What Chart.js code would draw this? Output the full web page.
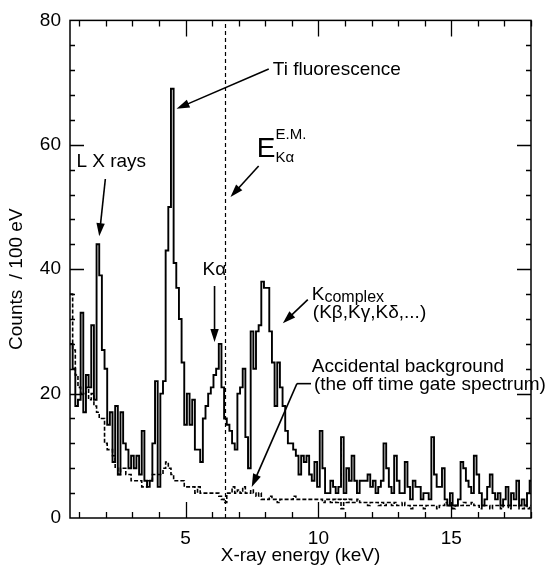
<!DOCTYPE html>
<html lang="en">
  <head>
    <meta charset="UTF-8" />
    <title>X-ray spectrum</title>
    <script src="https://cdn.jsdelivr.net/npm/chart.js@4.4.0/dist/chart.umd.min.js"></script>
    <style>
      body { margin: 0; background: #fff; }
      canvas { display: block; }
    </style>
  </head>
  <body>
    <canvas id="spectrum" width="549" height="573"></canvas>

    <script>
      // 100 eV bins, first bin 0.65-0.75 keV
      const firstEdge = 0.65;
      const binWidth = 0.1;

      // on-time gate spectrum, counts per bin (one row per keV)
      const onTimeCounts = [
        28, 24, 18, 19, 33, 17, 23, 21, 31, 19,
        44, 39, 27, 24, 15, 17, 9, 18, 7, 17,
        12, 11, 8, 10, 8, 10, 7, 14, 6, 5,
        6, 12, 22, 5, 20, 22, 43, 50, 69, 41,
        37, 32, 25, 15, 20, 15, 19, 11, 11, 9,
        16, 18, 20, 21, 23, 24, 28, 21, 16, 15,
        14, 12, 11, 20, 21, 24, 13, 8, 30, 24,
        30, 31, 38, 37, 37, 30, 25, 18, 25, 21,
        18, 14, 12, 12, 11, 10, 7, 10, 9, 10,
        7, 6, 9, 5, 14, 8, 4, 4, 6, 5,
        4, 5, 13, 4, 8, 6, 10, 6, 4, 6,
        6, 6, 7, 5, 6, 4, 5, 6, 12, 8,
        5, 4, 10, 6, 4, 4, 9, 5, 3, 6,
        5, 5, 3, 4, 4, 3, 13, 7, 5, 5,
        8, 3, 2, 4, 2, 2, 3, 9, 8, 6,
        5, 4, 10, 7, 4, 2, 3, 5, 7, 4,
        3, 4, 2, 3, 5, 2, 4, 3, 6, 2,
        3, 2, 4, 6
      ];

      // off-time gate spectrum (accidental background), same bins
      const offTimeCounts = [
        36, 27, 23, 21, 20, 20, 21, 19, 20, 18,
        17, 16, 16, 12, 11, 11, 10, 8, 7, 8,
        8, 7, 7, 6, 6, 6, 6, 5, 5, 6,
        6, 7, 7, 7, 7, 8, 9, 8, 7, 6,
        6, 6, 6, 5, 5, 5, 5, 4, 5, 4,
        4, 4, 4, 4, 4, 4, 3.5, 3, 2.5, 4,
        4, 5, 4, 4.5, 4, 5, 4, 4, 4.5, 4,
        3.5, 4, 3, 3, 3, 3.5, 3, 3, 2.5, 3,
        3, 3, 3, 3, 3.5, 3, 3, 3, 3, 3,
        3, 3, 3, 3, 3, 2.5, 3, 3, 2.5, 3,
        2.5, 3, 1.5, 3, 2.5, 3, 2.5, 2.5, 3, 2.5,
        2.5, 2.5, 2, 2.5, 2.5, 2.5, 2, 2.5, 2, 2.5,
        2.5, 2, 2.5, 2, 2, 2.5, 2, 2, 1.5, 2,
        2, 2, 2, 1.5, 2, 2, 2, 2, 1.5, 2,
        2, 2.5, 2, 2, 1.5, 2, 2, 2, 2.5, 2,
        2, 2.5, 2, 2, 1.5, 2, 2, 2, 1.5, 2,
        2, 2, 1.5, 2, 2, 1.5, 2, 2, 2, 1.5,
        1.5, 2, 1.5, 2
      ];

      const xTickValues = [5, 10, 15];
      const yTickValues = [0, 20, 40, 60, 80];
      const emLineEnergy = 6.5; // E.M. value of the K-alpha line, keV

      // histogram outline: one point per lower bin edge, plus the closing edge
      function toSteps(counts) {
        const pts = counts.map((c, i) => ({ x: +(firstEdge + i * binWidth).toFixed(2), y: c }));
        pts.push({ x: +(firstEdge + counts.length * binWidth).toFixed(2), y: counts[counts.length - 1] });
        return pts;
      }

      const FONT = "'Liberation Sans', Arial, Helvetica, sans-serif";
      const SIZE = 19;
      Chart.defaults.font.family = FONT;
      Chart.defaults.color = '#000';

      function arrow(ctx, x0, y0, x1, y1) {
        const a = Math.atan2(y1 - y0, x1 - x0);
        const L = 13, W = 4.2;
        const c = Math.cos(a), s = Math.sin(a);
        ctx.beginPath();
        ctx.moveTo(x0, y0);
        ctx.lineTo(x1 - L * 0.7 * c, y1 - L * 0.7 * s);
        ctx.stroke();
        ctx.beginPath();
        ctx.moveTo(x1, y1);
        ctx.lineTo(x1 - L * c + W * s, y1 - L * s - W * c);
        ctx.lineTo(x1 - L * c - W * s, y1 - L * s + W * c);
        ctx.closePath();
        ctx.fill();
      }

      // labels and pointers, anchored in data units (keV, counts)
      const notesPlugin = {
        id: 'notes',
        afterDatasetsDraw(chart) {
          const { ctx, scales: { x, y } } = chart;
          const X = v => x.getPixelForValue(v);
          const Y = v => y.getPixelForValue(v);
          ctx.save();
          ctx.strokeStyle = '#000';
          ctx.fillStyle = '#000';

          // E.M. K-alpha energy marker
          ctx.lineWidth = 1.2;
          ctx.setLineDash([4, 3]);
          ctx.beginPath();
          ctx.moveTo(Math.round(X(emLineEnergy)) + 0.5, Y(0));
          ctx.lineTo(Math.round(X(emLineEnergy)) + 0.5, Y(80));
          ctx.stroke();
          ctx.setLineDash([]);

          ctx.lineWidth = 1.6;
          ctx.textBaseline = 'middle';
          ctx.textAlign = 'left';
          ctx.font = SIZE + 'px ' + FONT;

          ctx.fillText('Ti fluorescence', X(8.28), Y(72.0));
          arrow(ctx, X(8.13), Y(72.2), X(4.66), Y(65.8));

          ctx.fillText('L X rays', X(0.89), Y(57.3));
          arrow(ctx, X(1.98), Y(54.5), X(1.75), Y(45.3));

          // E^{E.M.}_{K alpha}
          ctx.font = '28px ' + FONT;
          ctx.fillText('E', X(7.68), Y(59.3));
          const eW = ctx.measureText('E').width;
          ctx.font = '15px ' + FONT;
          ctx.fillText('E.M.', X(7.68) + eW, Y(61.6));
          ctx.fillText('K\u03b1', X(7.68) + eW, Y(57.9));
          arrow(ctx, X(7.75), Y(56.6), X(6.69), Y(51.6));

          ctx.font = SIZE + 'px ' + FONT;
          ctx.fillText('K\u03b1', X(5.64), Y(39.9));
          arrow(ctx, X(6.09), Y(37.3), X(6.09), Y(28.3));

          // K complex
          ctx.fillText('K', X(9.75), Y(35.9));
          const kW = ctx.measureText('K').width;
          ctx.font = '16px ' + FONT;
          ctx.fillText('complex', X(9.75) + kW, Y(35.5));
          ctx.font = SIZE + 'px ' + FONT;
          ctx.fillText('(K\u03b2,K\u03b3,K\u03b4,...)', X(9.79), Y(33.0));
          arrow(ctx, X(9.60), Y(35.1), X(8.66), Y(31.3));

          ctx.fillText('Accidental background', X(9.75), Y(24.3));
          ctx.fillText('(the off time gate spectrum)', X(9.83), Y(21.5));
          ctx.beginPath();
          ctx.moveTo(X(9.72), Y(21.6));
          ctx.lineTo(X(9.19), Y(21.6));
          ctx.stroke();
          arrow(ctx, X(9.19), Y(21.6), X(7.49), Y(5.0));

          ctx.restore();
        }
      };

      // closed frame with inward ticks on all four sides
      const framePlugin = {
        id: 'frame',
        afterDraw(chart) {
          const { ctx, chartArea: a, scales: { x, y } } = chart;
          ctx.save();
          ctx.strokeStyle = '#000';
          ctx.lineWidth = 1.5;
          ctx.strokeRect(a.left, a.top, a.right - a.left, a.bottom - a.top);
          ctx.lineWidth = 1.3;
          ctx.beginPath();
          for (let e = 1; e <= 18; e++) {
            const px = Math.round(x.getPixelForValue(e)) + 0.5;
            const len = xTickValues.includes(e) ? 16 : 6;
            ctx.moveTo(px, a.bottom); ctx.lineTo(px, a.bottom - len);
            ctx.moveTo(px, a.top); ctx.lineTo(px, a.top + len);
          }
          for (let c = 4; c < 80; c += 4) {
            const py = Math.round(y.getPixelForValue(c)) + 0.5;
            const len = yTickValues.includes(c) ? 14 : 5;
            ctx.moveTo(a.left, py); ctx.lineTo(a.left + len, py);
            ctx.moveTo(a.right, py); ctx.lineTo(a.right - len, py);
          }
          ctx.stroke();

          // y-axis title
          ctx.translate(17, (a.top + a.bottom) / 2 + 10);
          ctx.rotate(-Math.PI / 2);
          ctx.font = SIZE + 'px ' + FONT;
          ctx.fillStyle = '#000';
          ctx.textAlign = 'center';
          ctx.textBaseline = 'middle';
          ctx.fillText('Counts  / 100 eV', 0, 0);
          ctx.restore();
        }
      };

      const ctx = document.getElementById('spectrum').getContext('2d');
      new Chart(ctx, {
        type: 'line',
        data: {
          datasets: [
            {
              label: 'off time gate',
              data: toSteps(offTimeCounts),
              stepped: true,
              borderColor: '#000',
              borderWidth: 1.6,
              borderDash: [4, 2],
              pointRadius: 0,
              fill: false
            },
            {
              label: 'on time gate',
              data: toSteps(onTimeCounts),
              stepped: true,
              borderColor: '#000',
              borderWidth: 1.9,
              pointRadius: 0,
              fill: false
            }
          ]
        },
        options: {
          responsive: false,
          animation: false,
          layout: { padding: { top: 14, right: 18, left: 0, bottom: 0 } },
          plugins: {
            legend: { display: false },
            tooltip: { enabled: false }
          },
          scales: {
            x: {
              type: 'linear',
              min: firstEdge,
              max: 18,
              grid: { display: false, drawTicks: false },
              border: { display: false },
              afterBuildTicks: s => { s.ticks = xTickValues.map(v => ({ value: v })); },
              afterFit: s => { s.height = 55; },
              ticks: { font: { size: SIZE }, padding: 9, maxRotation: 0, autoSkip: false },
              title: {
                display: true,
                text: 'X-ray energy (keV)',
                font: { size: SIZE },
                padding: { top: 6, bottom: 6 }
              }
            },
            y: {
              min: 0,
              max: 80,
              grid: { display: false, drawTicks: false },
              border: { display: false },
              afterBuildTicks: s => { s.ticks = yTickValues.map(v => ({ value: v })); },
              afterFit: s => { s.width = 70; },
              ticks: { font: { size: SIZE }, padding: 9, autoSkip: false }
            }
          }
        },
        plugins: [notesPlugin, framePlugin]
      });
    </script>
  </body>
</html>
